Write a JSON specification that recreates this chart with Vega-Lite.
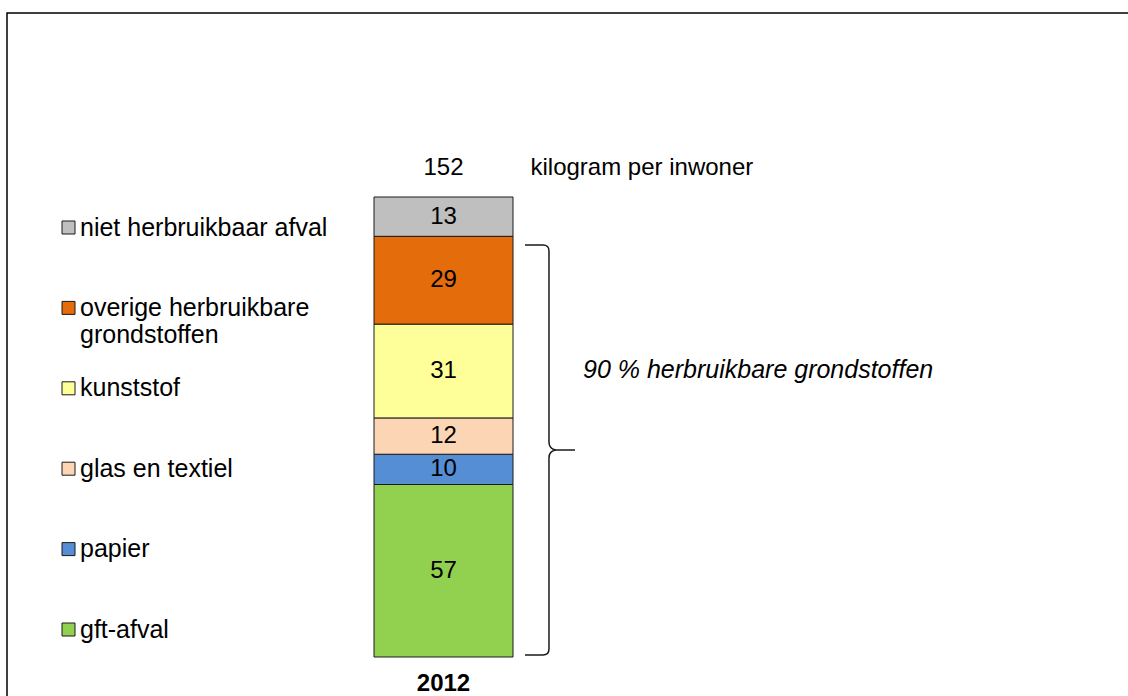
{
  "$schema": "https://vega.github.io/schema/vega-lite/v6.json",
  "width": 1126,
  "height": 690,
  "autosize": {"type": "none"},
  "padding": {"left": 7, "top": 13, "right": 0, "bottom": 0},
  "background": "white",
  "config": {
    "view": {"stroke": "#000000", "strokeWidth": 1.5},
    "font": "Liberation Sans",
    "text": {"font": "Liberation Sans", "fontSize": 24, "color": "#000000"}
  },
  "datasets": {
    "afval": [
      {"jaar": "2012", "categorie": "gft-afval", "waarde": 57, "volgorde": 1},
      {"jaar": "2012", "categorie": "papier", "waarde": 10, "volgorde": 2},
      {"jaar": "2012", "categorie": "glas en textiel", "waarde": 12, "volgorde": 3},
      {"jaar": "2012", "categorie": "kunststof", "waarde": 31, "volgorde": 4},
      {"jaar": "2012", "categorie": "overige herbruikbare grondstoffen", "waarde": 29, "volgorde": 5},
      {"jaar": "2012", "categorie": "niet herbruikbaar afval", "waarde": 13, "volgorde": 6}
    ]
  },
  "data": {"name": "afval"},
  "layer": [
    {
      "transform": [
        {"stack": "waarde", "groupby": ["jaar"], "sort": [{"field": "volgorde", "order": "ascending"}], "as": ["onder", "boven"]}
      ],
      "mark": {"type": "bar", "stroke": "#1a1a1a", "strokeWidth": 1},
      "encoding": {
        "x": {"field": "jaar", "type": "nominal", "scale": {"type": "band", "range": [367, 506], "paddingInner": 0, "paddingOuter": 0}, "axis": null},
        "y": {"field": "onder", "type": "quantitative", "scale": {"domain": [0, 152], "range": [644, 184], "nice": false, "zero": false}, "axis": null},
        "y2": {"field": "boven"},
        "color": {
          "field": "categorie",
          "type": "nominal",
          "scale": {
            "domain": ["niet herbruikbaar afval", "overige herbruikbare grondstoffen", "kunststof", "glas en textiel", "papier", "gft-afval"],
            "range": ["#BFBFBF", "#E46C0A", "#FFFF99", "#FCD5B5", "#558ED5", "#92D050"]
          },
          "legend": {
            "orient": "none",
            "legendX": 49,
            "legendY": 202,
            "title": null,
            "symbolType": "square",
            "symbolSize": 169,
            "symbolStrokeColor": "#1a1a1a",
            "symbolStrokeWidth": 1,
            "labelFont": "Liberation Sans",
            "labelFontSize": 25,
            "labelColor": "#000000",
            "labelOffset": -1,
            "labelLimit": 500,
            "rowPadding": 27.4,
            "gridAlign": "all",
            "labelExpr": "datum.label == 'overige herbruikbare grondstoffen' ? ['overige herbruikbare', 'grondstoffen'] : datum.label"
          }
        }
      }
    },
    {
      "transform": [
        {"stack": "waarde", "groupby": ["jaar"], "sort": [{"field": "volgorde", "order": "ascending"}], "as": ["onder", "boven"]},
        {"calculate": "(datum.onder + datum.boven) / 2", "as": "midden"}
      ],
      "mark": {"type": "text", "baseline": "middle", "align": "center"},
      "encoding": {
        "x": {"field": "jaar", "type": "nominal", "scale": {"type": "band", "range": [367, 506], "paddingInner": 0, "paddingOuter": 0}, "axis": null},
        "y": {"field": "midden", "type": "quantitative", "scale": {"domain": [0, 152], "range": [644, 184], "nice": false, "zero": false}, "axis": null},
        "text": {"field": "waarde", "type": "quantitative"}
      }
    },
    {
      "transform": [{"aggregate": [{"op": "sum", "field": "waarde", "as": "totaal"}], "groupby": ["jaar"]}],
      "mark": {"type": "text", "baseline": "middle", "align": "center", "dy": -29},
      "encoding": {
        "x": {"field": "jaar", "type": "nominal", "scale": {"type": "band", "range": [367, 506], "paddingInner": 0, "paddingOuter": 0}, "axis": null},
        "y": {"field": "totaal", "type": "quantitative", "scale": {"domain": [0, 152], "range": [644, 184], "nice": false, "zero": false}, "axis": null},
        "text": {"field": "totaal", "type": "quantitative"}
      }
    },
    {
      "transform": [{"aggregate": [{"op": "sum", "field": "waarde", "as": "totaal"}], "groupby": ["jaar"]}],
      "mark": {"type": "text", "baseline": "middle", "align": "left", "dx": 87, "dy": -29},
      "encoding": {
        "x": {"field": "jaar", "type": "nominal", "scale": {"type": "band", "range": [367, 506], "paddingInner": 0, "paddingOuter": 0}, "axis": null},
        "y": {"field": "totaal", "type": "quantitative", "scale": {"domain": [0, 152], "range": [644, 184], "nice": false, "zero": false}, "axis": null},
        "text": {"value": "kilogram per inwoner"}
      }
    },
    {
      "transform": [{"aggregate": [{"op": "sum", "field": "waarde", "as": "totaal"}], "groupby": ["jaar"]}],
      "mark": {"type": "text", "baseline": "middle", "align": "center", "dy": 27, "fontWeight": "bold"},
      "encoding": {
        "x": {"field": "jaar", "type": "nominal", "scale": {"type": "band", "range": [367, 506], "paddingInner": 0, "paddingOuter": 0}, "axis": null},
        "y": {"datum": 0, "type": "quantitative", "scale": {"domain": [0, 152], "range": [644, 184], "nice": false, "zero": false}, "axis": null},
        "text": {"field": "jaar", "type": "nominal"}
      }
    },
    {
      "transform": [{"aggregate": [{"op": "sum", "field": "waarde", "as": "totaal"}], "groupby": ["jaar"]}],
      "mark": {"type": "text", "baseline": "middle", "align": "left", "dx": 139.5, "fontStyle": "italic", "fontSize": 25},
      "encoding": {
        "x": {"field": "jaar", "type": "nominal", "scale": {"type": "band", "range": [367, 506], "paddingInner": 0, "paddingOuter": 0}, "axis": null},
        "y": {"datum": 95, "type": "quantitative", "scale": {"domain": [0, 152], "range": [644, 184], "nice": false, "zero": false}, "axis": null},
        "text": {"value": "90 % herbruikbare grondstoffen"}
      }
    },
    {
      "transform": [{"aggregate": [{"op": "sum", "field": "waarde", "as": "totaal"}], "groupby": ["jaar"]}],
      "mark": {
        "type": "point",
        "shape": "M -0.122 -1 L -0.034 -1 Q -0.005 -1 -0.005 -0.971 L -0.005 -0.039 Q -0.005 -0.005 0.029 0 L 0.122 0 M 0.029 0 Q -0.005 0.005 -0.005 0.039 L -0.005 0.971 Q -0.005 1 -0.034 1 L -0.122 1",
        "size": 168100,
        "filled": false,
        "stroke": "#1a1a1a",
        "strokeWidth": 1.5,
        "opacity": 1,
        "xOffset": 106.5
      },
      "encoding": {
        "x": {"field": "jaar", "type": "nominal", "scale": {"type": "band", "range": [367, 506], "paddingInner": 0, "paddingOuter": 0}, "axis": null},
        "y": {"datum": 68.4, "type": "quantitative", "scale": {"domain": [0, 152], "range": [644, 184], "nice": false, "zero": false}, "axis": null}
      }
    }
  ]
}
